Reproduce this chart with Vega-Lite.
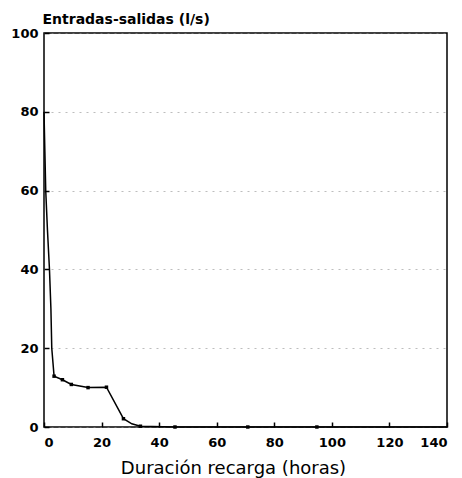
{
  "$schema": "https://vega.github.io/schema/vega-lite/v6.json",
  "width": 403,
  "height": 394,
  "autosize": {"type": "none"},
  "padding": {"left": 44, "top": 33, "right": 15, "bottom": 51},
  "background": "white",
  "config": {
    "font": "DejaVu Sans",
    "view": {"stroke": "black", "strokeWidth": 1.5},
    "axis": {
      "domain": false,
      "tickColor": "black",
      "tickWidth": 1.5,
      "labelColor": "black",
      "labelFont": "DejaVu Sans",
      "labelFontWeight": "bold",
      "labelFontSize": 13,
      "titleColor": "black",
      "titleFont": "DejaVu Sans"
    }
  },
  "datasets": {
    "linea": [
      {"horas": 0, "caudal": 80},
      {"horas": 0.3, "caudal": 70},
      {"horas": 0.6, "caudal": 60},
      {"horas": 1.2, "caudal": 50},
      {"horas": 1.9, "caudal": 40},
      {"horas": 2.4, "caudal": 30},
      {"horas": 2.7, "caudal": 20},
      {"horas": 3.5, "caudal": 12.9},
      {"horas": 6.4, "caudal": 12.0},
      {"horas": 9.5, "caudal": 10.8},
      {"horas": 15.3, "caudal": 10.0},
      {"horas": 21.7, "caudal": 10.1},
      {"horas": 27.6, "caudal": 2.1},
      {"horas": 30.5, "caudal": 0.8},
      {"horas": 33.5, "caudal": 0.2},
      {"horas": 45.5, "caudal": 0},
      {"horas": 70.8, "caudal": 0},
      {"horas": 94.8, "caudal": 0},
      {"horas": 140, "caudal": 0}
    ],
    "medidas": [
      {"horas": 3.5, "caudal": 12.9},
      {"horas": 6.4, "caudal": 12.0},
      {"horas": 9.5, "caudal": 10.8},
      {"horas": 15.3, "caudal": 10.0},
      {"horas": 21.7, "caudal": 10.1},
      {"horas": 27.6, "caudal": 2.1},
      {"horas": 33.5, "caudal": 0.2},
      {"horas": 45.5, "caudal": 0},
      {"horas": 70.8, "caudal": 0},
      {"horas": 94.8, "caudal": 0}
    ]
  },
  "encoding": {
    "x": {
      "field": "horas",
      "type": "quantitative",
      "scale": {"domain": [0, 140], "nice": false},
      "axis": {
        "values": [0, 20, 40, 60, 80, 100, 120, 140],
        "grid": false,
        "tickSize": -5,
        "labelPadding": 14,
        "title": "Duración recarga (horas)",
        "titleFontSize": 18,
        "titleFontWeight": "normal",
        "titleX": 189,
        "titleY": 46,
        "titleBaseline": "alphabetic"
      }
    },
    "y": {
      "field": "caudal",
      "type": "quantitative",
      "scale": {"domain": [0, 100], "nice": false},
      "axis": {
        "values": [0, 20, 40, 60, 80, 100],
        "grid": true,
        "gridColor": "#888888",
        "gridDash": [2, 5],
        "gridWidth": 0.8,
        "gridOpacity": 0.7,
        "tickSize": -5,
        "labelPadding": 11,
        "title": "Entradas-salidas (l/s)",
        "titleFontSize": 14,
        "titleFontWeight": "bold",
        "titleAngle": 0,
        "titleAlign": "left",
        "titleBaseline": "alphabetic",
        "titleX": -2,
        "titleY": -10
      }
    }
  },
  "layer": [
    {
      "data": {"name": "linea"},
      "mark": {"type": "line", "color": "black", "strokeWidth": 1.5}
    },
    {
      "data": {"name": "medidas"},
      "mark": {"type": "point", "shape": "square", "filled": true, "color": "black", "size": 12, "opacity": 1}
    }
  ]
}
